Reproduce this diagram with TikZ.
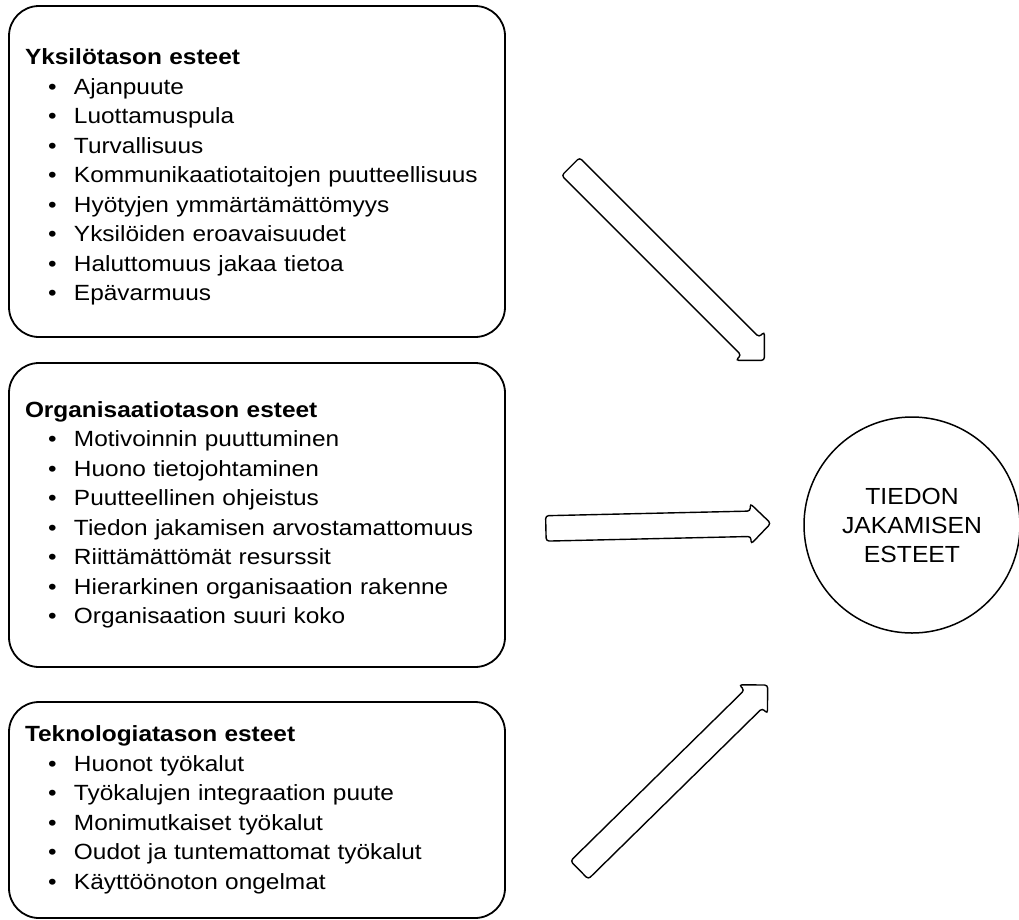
\documentclass[tikz,border=0pt]{standalone}
\usepackage{fontspec}
\setmainfont{Liberation Sans}[FakeStretch=1.11]
\newfontfamily\goalfont{Liberation Sans}[FakeStretch=1.06]
\usetikzlibrary{shapes.arrows}

\newcommand\bul[1]{\hspace*{23pt}\makebox[26pt][l]{\textbullet}#1}

\begin{document}
\begin{tikzpicture}[
  x=1pt, y=-1pt,
  level/.style={draw, line width=1.8pt, rounded corners=30pt, text width=464pt,
    inner xsep=16pt, inner ysep=0pt, align=left, font=\fontsize{22}{29.5}\selectfont},
  goal/.style={draw, circle, line width=1.5pt, minimum size=216pt, align=center,
    font=\goalfont\fontsize{23.3}{29}\selectfont},
  barrow/.style={single arrow, draw, line width=1.4pt, inner xsep=0pt, inner ysep=12pt,
    single arrow head extend=7.5pt, rounded corners=3pt}
]
\useasboundingbox (0,0) rectangle (1019,919);

% The three levels of barriers, text centred vertically in each box.
\node[level, minimum height=331pt] (yks) at (257,171.5) {%
  \rule{0pt}{27pt}\textbf{Yksilötason esteet}\\
  \bul{Ajanpuute}\\
  \bul{Luottamuspula}\\
  \bul{Turvallisuus}\\
  \bul{Kommunikaatiotaitojen puutteellisuus}\\
  \bul{Hyötyjen ymmärtämättömyys}\\
  \bul{Yksilöiden eroavaisuudet}\\
  \bul{Haluttomuus jakaa tietoa}\\
  \bul{Epävarmuus}};

\node[level, minimum height=304pt] (org) at (257,515) {%
  \textbf{Organisaatiotason esteet}\\
  \bul{Motivoinnin puuttuminen}\\
  \bul{Huono tietojohtaminen}\\
  \bul{Puutteellinen ohjeistus}\\
  \bul{Tiedon jakamisen arvostamattomuus}\\
  \bul{Riittämättömät resurssit}\\
  \bul{Hierarkinen organisaation rakenne}\\
  \bul{Organisaation suuri koko}};

\node[level, minimum height=216pt] (tek) at (257,810) {%
  \textbf{Teknologiatason esteet}\\
  \bul{Huonot työkalut}\\
  \bul{Työkalujen integraation puute}\\
  \bul{Monimutkaiset työkalut}\\
  \bul{Oudot ja tuntemattomat työkalut}\\
  \bul{Käyttöönoton ongelmat}};

\node[goal] (est) at (912,525) {TIEDON\\JAKAMISEN\\ESTEET};

% Hollow block arrows pointing at the circle
\node[barrow, minimum height=274pt, rotate=-45] (a1) at (663,259) {};
\node[barrow, minimum height=225pt, rotate=1.3] (a2) at (652,526) {};
\node[barrow, minimum height=264pt, rotate=44.5] (a3) at (669,782) {};

\end{tikzpicture}
\end{document}
